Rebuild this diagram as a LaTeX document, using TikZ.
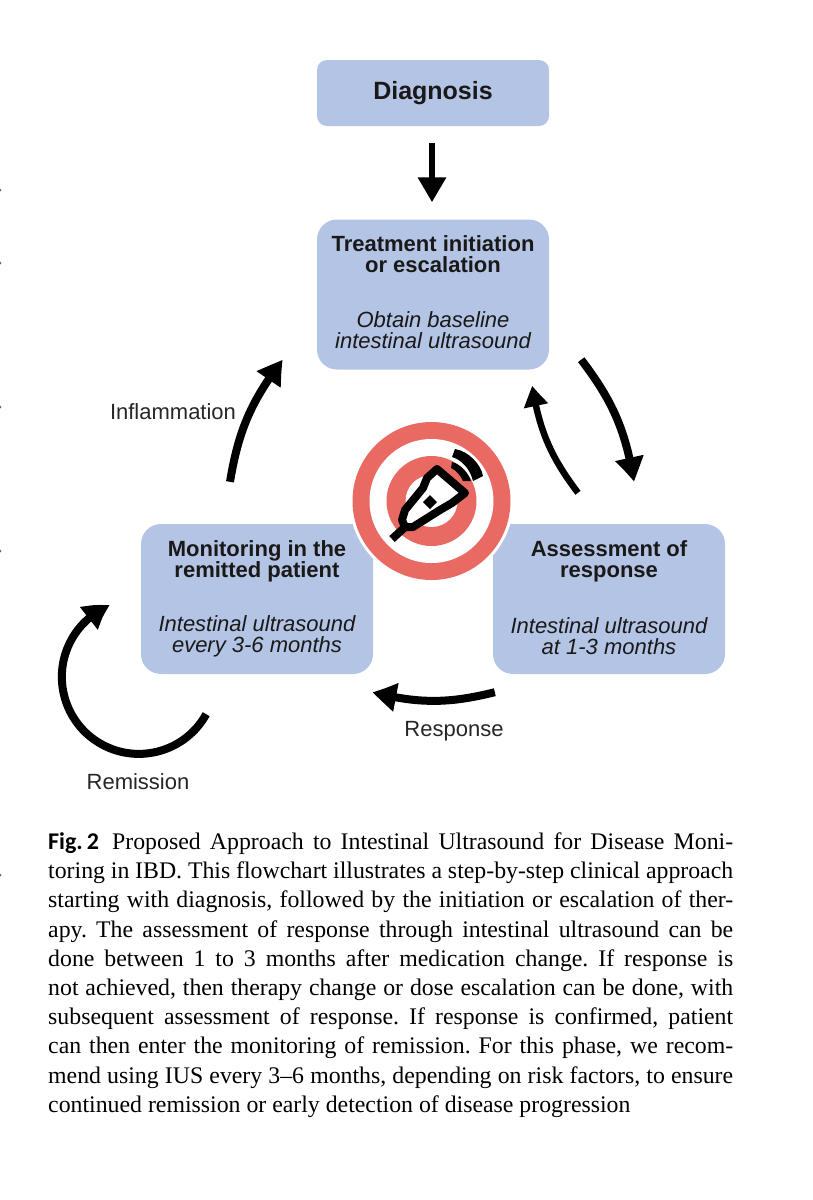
\documentclass[tikz,border=0pt]{standalone}
\usepackage{fontspec}
\setmainfont{Liberation Serif}
\setsansfont{Liberation Sans}
\newfontfamily\figfont{Carlito}
\usetikzlibrary{arrows.meta,bending}
\definecolor{boxblue}{HTML}{B4C4E4}
\definecolor{targetred}{HTML}{E96A62}
\tikzset{
    stage/.style={fill=boxblue, rounded corners=20pt, minimum width=232pt, minimum height=150pt, inner sep=0pt},
    stagehead/.style={align=center, inner sep=0pt, text=black!90, font=\sffamily\bfseries\fontsize{22}{21}\selectfont},
    stagenote/.style={align=center, inner sep=0pt, text=black!90, font=\sffamily\itshape\fontsize{22}{21}\selectfont},
    flow/.style={line width=8pt, -{Triangle[length=25pt,width=27pt,bend]}, black},
    tag/.style={font=\sffamily\fontsize{22}{24}\selectfont, text=black!85, inner sep=0pt},
}
\begin{document}
\begin{tikzpicture}[x=1pt,y=-1pt]
    \useasboundingbox (0,0) rectangle (813,1200);

    % specks on the edge
    \foreach \y in {190,263,407,551,875}
        \fill[black!60] (0,\y) circle (1.5);

    % boxes
    \node[stage, rounded corners=10pt, minimum height=66pt, text=black!90, font=\sffamily\bfseries\fontsize{25}{30}\selectfont] (diagnosis) at (433,93) {\raisebox{-1pt}{Diagnosis}};
    \node[stage] (treatment) at (433,294.5) {};
    \node[stage] (assessment) at (609,599) {};
    \node[stage] (monitoring) at (257,599) {};

    \node[stagehead] (treatmenthead) at (433,254) {Treatment initiation\\or escalation};
    \node[stagenote] (treatmentnote) at (433,330) {Obtain baseline\\intestinal ultrasound};
    \node[stagehead] (assessmenthead) at (609,561.5) {Assessment of\\response};
    \node[stagenote] (assessmentnote) at (609,636) {Intestinal ultrasound\\at 1-3 months};
    \node[stagehead] (monitoringhead) at (257,561.5) {Monitoring in the\\remitted patient};
    \node[stagenote] (monitoringnote) at (257,636) {Intestinal ultrasound\\every 3-6 months};

    % target
    \def \cx {431.5}
    \def \cy {501}
    \fill[white] (\cx,\cy) circle (82);
    \fill[targetred] (\cx,\cy) circle (79);
    \fill[white] (\cx,\cy) circle (62);
    \fill[targetred] (\cx,\cy) circle (45);
    \fill[white] (\cx,\cy) circle (26);

    % probe
    \draw[line width=8pt, line join=round, fill=white] (437,469) -- (465,493) -- (452,503) -- (440,510) -- (413,527) -- (405,527) -- (402,520) -- (405,510) -- (423,488) -- (427,478) -- cycle;
    \draw[line width=8pt] (404,528) -- (392,539);
    \fill (430,495) -- (437,502) -- (430,509) -- (423,502) -- cycle;
    \fill (455,449) .. controls (468,451) and (481,464) .. (483,476) -- (473,481) .. controls (470,469) and (462,460) .. (452,457) -- cycle;
    \fill (452,462) .. controls (460,464) and (468,472) .. (471,481) -- (463,481) .. controls (461,476) and (456,470) .. (451,468) -- cycle;

    % arrows
    \draw[flow, line width=6.5pt, shorten <=17pt, shorten >=17pt] ([xshift=-1pt]diagnosis.center) ++(0,33) -- ([xshift=-1pt]treatment.north);
    \draw[flow] ([shift={(32,-10)}]treatment.south east) to[bend left=14] ([shift={(25,-42)}]assessment.north);
    \draw[flow, line width=6.5pt, -{Triangle[length=21pt,width=23pt,bend]}] ([shift={(-31,-31)}]assessment.north) to[bend left=14] ([shift={(-17,16)}]treatment.south east);
    \draw[flow] ([shift={(2,18)}]assessment.south west) to[bend left=14] ([shift={(-1,18)}]monitoring.south east);
    \draw[flow] ([shift={(-167,40)}]monitoring.south east) arc[start angle=29, end angle=248, radius=77];
    \draw[flow] ([shift={(-27,-42)}]monitoring.north) to[bend left=14] ([shift={(-34,-10)}]treatment.south west);

    % labels
    \node[tag] (inflammation) at (173,412) {Inflammation};
    \node[tag] (response) at (454,731.5) {Response};
    \node[tag] (remission) at (138,782) {Remission};

    % caption
    \node[anchor=north west, inner sep=0pt, text width=685pt, align=justify, font=\fontsize{23.8}{29.2}\selectfont] (caption) at (48,832.5) {\frenchspacing{\figfont\bfseries\fontsize{24}{29.2}\selectfont Fig.\,2}\hspace{0.55em}Proposed Approach to Intestinal Ultrasound for Disease Moni-\linebreak
toring in IBD. This flowchart illustrates a step-by-step clinical approach\linebreak
starting with diagnosis, followed by the initiation or escalation of ther-\linebreak
apy. The assessment of response through intestinal ultrasound can be\linebreak
done between 1 to 3 months after medication change. If response is\linebreak
not achieved, then therapy change or dose escalation can be done, with\linebreak
subsequent assessment of response. If response is confirmed, patient\linebreak
can then enter the monitoring of remission. For this phase, we recom-\linebreak
mend using IUS every 3--6 months, depending on risk factors, to ensure\linebreak
continued remission or early detection of disease progression};
\end{tikzpicture}
\end{document}
